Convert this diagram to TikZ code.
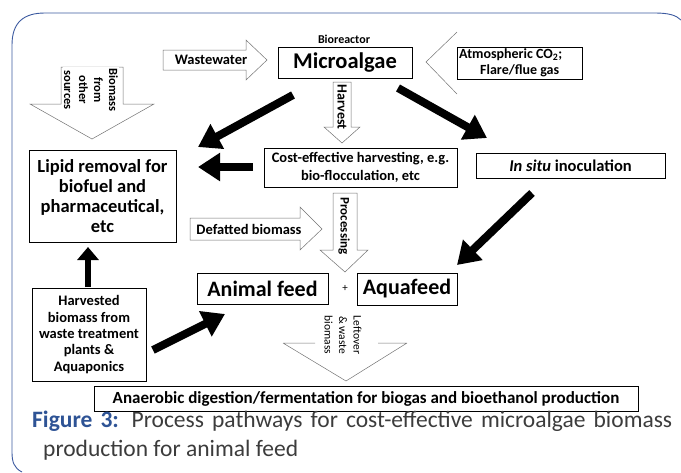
\documentclass[tikz,border=0pt]{standalone}
\usepackage{fontspec}
\setmainfont{Carlito}
\usetikzlibrary{arrows.meta}
\definecolor{capblue}{RGB}{46,83,149}
\definecolor{captext}{RGB}{60,60,60}
\definecolor{framblue}{RGB}{60,90,160}
\begin{document}
\begin{tikzpicture}[x=1pt,y=-1pt,
  box/.style={draw=black, line width=0.8pt, align=center, inner sep=0pt, font=\bfseries},
  hollow/.style={draw=black!55, line width=0.5pt, fill=white},
  bigarrow/.style={line width=8pt, -{Triangle[length=22pt,width=27pt]}},
  smallarrow/.style={line width=6.5pt, -{Triangle[length=13pt,width=21pt]}},
  lbl/.style={font=\bfseries, align=center, fill=white, inner sep=1pt},
  vlbl/.style={align=center, fill=white, inner sep=1pt, rotate=-90}
]
\useasboundingbox (0,0) rectangle (681,472);

% frame
\draw[framblue, line width=0.9pt] (22,472) .. controls (14,468) and (12,462) .. (12,452)
  -- (12,45) .. controls (12,22) and (24,13) .. (45,13) -- (655,13)
  .. controls (668,13) and (676,15) .. (681,20);

% hollow arrows
\draw[hollow] (163,50) -- (246,50) -- (246,40) -- (267,60) -- (246,80) -- (246,70) -- (163,70) -- cycle;
\node[lbl, font=\bfseries\fontsize{14.5}{16}\selectfont, inner sep=0.5pt] (ww) at (211,60) {Wastewater};

\draw[hollow] (61,67) -- (123,67) -- (123,104) -- (154,104) -- (92,139) -- (30,104) -- (61,104) -- cycle;
\node[vlbl, font=\bfseries\fontsize{12.5}{15}\selectfont] (bos) at (91,90) {Biomass\\from\\other\\sources};

\draw[hollow] (333,82) -- (351,82) -- (351,127) -- (360,127) -- (342,143) -- (324,127) -- (333,127) -- cycle;
\node[vlbl, font=\bfseries\fontsize{14}{15}\selectfont, inner sep=0.3pt] (hv) at (342,107) {Harvest};

\draw[hollow] (333,193) -- (357,193) -- (357,250) -- (368,250) -- (345,272) -- (320,250) -- (333,250) -- cycle;
\node[vlbl, font=\bfseries\fontsize{13}{14}\selectfont, inner sep=0.5pt] (pr) at (344,226) {Processing};

\draw[hollow] (190,218) -- (300,218) -- (300,207) -- (322,229) -- (300,250) -- (300,240) -- (190,240) -- cycle;
\node[lbl, font=\bfseries\fontsize{14.5}{16}\selectfont, inner sep=0.5pt] (db) at (249,229) {Defatted biomass};

\draw[draw=black!55, line width=0.5pt] (283,343) -- (315,343) (378,343) -- (407,343)
  (283,343) -- (346,381) -- (407,343);
\node[vlbl, font=\fontsize{11.5}{14.5}\selectfont] (lw) at (343,335) {Leftover\\\& waste\\biomass};

% CO2 chevron
\draw[draw=black!55, line width=0.5pt] (457,32) -- (426,62) -- (457,94);

% boxes
\node[font=\bfseries\fontsize{12}{13}\selectfont, inner sep=0pt] (bio) at (344,39) {Bioreactor};
\node[box, minimum width=134pt, minimum height=31pt, font=\bfseries\fontsize{22.5}{24}\selectfont] (mic) at (345,62.5) {Microalgae};
\node[box, minimum width=125pt, minimum height=32pt] (co2) at (519.5,63) {};
\node[anchor=west, align=left, inner sep=0pt, font=\bfseries\fontsize{14}{16}\selectfont] (co2t) at (459,63) {Atmospheric CO\textsubscript{2};\\\hspace{1.5em}Flare/flue gas};
\node[box, minimum width=193pt, minimum height=39pt, font=\bfseries\fontsize{14.5}{18}\selectfont] (ce) at (360.5,167.5) {Cost-effective harvesting, e.g.\\bio-flocculation, etc};
\node[box, minimum width=189pt, minimum height=25pt, font=\bfseries\fontsize{16.5}{18}\selectfont] (ins) at (570.5,165.5) {\textit{In situ} inoculation};
\node[box, minimum width=147pt, minimum height=92pt, font=\bfseries\fontsize{18.5}{20}\selectfont] (lip) at (102.5,196) {Lipid removal for\\biofuel and\\pharmaceutical,\\etc};
\node[box, minimum width=131pt, minimum height=31pt, font=\bfseries\fontsize{22}{24}\selectfont] (af) at (262.5,288.5) {Animal feed};
\node[font=\fontsize{11}{12}\selectfont, inner sep=0pt] (plus) at (345,288) {+};
\node[box, minimum width=100pt, minimum height=32pt, font=\bfseries\fontsize{22}{24}\selectfont] (aq) at (407,289) {Aquafeed};
\node[box, minimum width=114pt, minimum height=93pt, font=\bfseries\fontsize{14.5}{16.3}\selectfont] (hb) at (89,334.5) {Harvested\\biomass from\\waste treatment\\plants \&\\Aquaponics};
\node[box, minimum width=544pt, minimum height=25pt, font=\bfseries\fontsize{17}{19}\selectfont] (ad) at (366,398.5) {Anaerobic digestion/fermentation for biogas and bioethanol production};

% thick arrows
\coordinate (a1s) at (293,95);  \coordinate (a1e) at (198,147);
\coordinate (a2s) at (398,88);  \coordinate (a2e) at (487,138);
\coordinate (a3s) at (253,167); \coordinate (a3e) at (198,167);
\coordinate (a4s) at (532,193); \coordinate (a4e) at (457,265);
\coordinate (a5s) at (88,287);  \coordinate (a5e) at (88,247);
\coordinate (a6s) at (153,350); \coordinate (a6e) at (225,314);
\draw[bigarrow] (a1s) -- (a1e);
\draw[bigarrow] (a2s) -- (a2e);
\draw[bigarrow] (a3s) -- (a3e);
\draw[bigarrow] (a4s) -- (a4e);
\draw[smallarrow] (a5s) -- (a5e);
\draw[bigarrow] (a6s) -- (a6e);

% caption
\node[anchor=base west, inner sep=0pt, text=captext, font=\fontsize{23.5}{29}\selectfont] (cap1) at (32,427)
  {\makebox[640pt][s]{\textcolor{capblue}{\textbf{Figure 3:}} Process pathways for cost-effective microalgae biomass}};
\node[anchor=base west, inner sep=0pt, text=captext, font=\fontsize{23.5}{29}\selectfont] (cap2) at (43,456)
  {production for animal feed};
\end{tikzpicture}
\end{document}
